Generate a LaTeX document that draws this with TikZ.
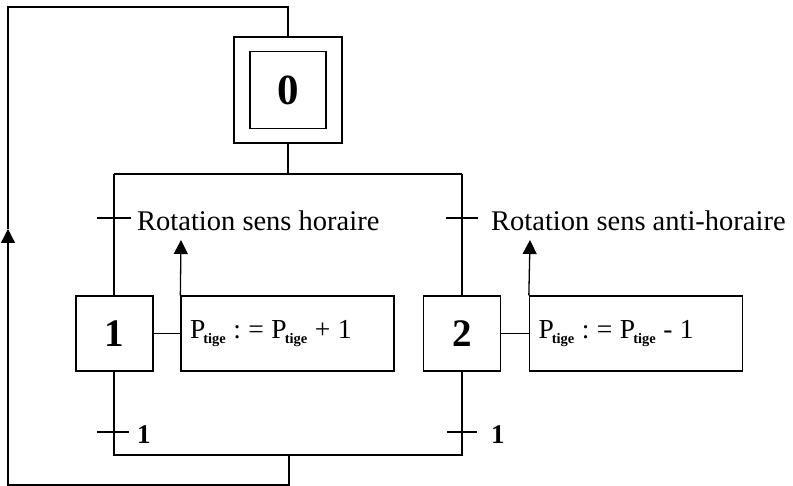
\documentclass[tikz,border=0pt]{standalone}
\usepackage{fontspec}
\setmainfont{Liberation Serif}
\usetikzlibrary{arrows.meta}
\newcommand\tigesub{\kern-2pt\raisebox{-5.5pt}{\fontsize{14.5}{14.5}\selectfont\bfseries tige}}
\newcommand\gap{\hspace{7.5pt}}
\tikzset{
  wire/.style={line width=1.3pt},
  stepbox/.style={draw, line width=1.3pt, minimum width=77pt, minimum height=75pt,
    inner sep=0pt, font=\fontsize{39}{42}\selectfont\bfseries},
  actbox/.style={draw, line width=1.3pt, minimum height=75pt, text width=195pt,
    inner sep=9pt, align=left, font=\fontsize{27.5}{30}\selectfont},
  cond/.style={anchor=base west, inner sep=0pt, font=\fontsize{28.5}{32}\selectfont},
  condnum/.style={anchor=base west, inner sep=0pt, font=\fontsize{27}{30}\selectfont\bfseries},
  tip/.style={-{Triangle[length=14pt,width=14pt]}},
}
\begin{document}
\begin{tikzpicture}[x=1pt,y=-1pt]
\useasboundingbox (0,0) rectangle (793,486);

% initial step (double square)
\node[draw, line width=1.3pt, minimum width=108pt, minimum height=106pt, inner sep=0pt] (s0o) at (288,90) {};
\node[draw, line width=1.3pt, minimum width=76pt, minimum height=77pt, inner sep=0pt,
  font=\fontsize{43}{46}\selectfont\bfseries] (s0) at (288,90) {0};

% steps 1 and 2
\node[stepbox] (s1) at (114.5,333.5) {1};
\node[stepbox] (s2) at (462,333.5) {2};

% actions
\node[actbox] (a1) at (287.5,333.5) {P\tigesub\gap:\gap=\gap P\tigesub\gap+\gap1};
\node[actbox] (a2) at (636,333.5) {P\tigesub\gap:\gap=\gap P\tigesub\gap-\gap1};

% divergence
\coordinate (dv) at (288,174);
\coordinate (dvl) at (114,174);
\coordinate (dvr) at (462,174);
\draw[wire] (s0o.south) -- (dv);
\draw[wire] (dvl) -- (dvr);
\draw[wire] (dvl) -- (dvl |- s1.north);
\draw[wire] (dvr) -- (dvr |- s2.north);

% upper transitions
\coordinate (t1) at (114,218);
\coordinate (t2) at (462,218);
\draw[wire] ([xshift=-17pt]t1) -- ([xshift=17pt]t1);
\draw[wire] ([xshift=-16pt]t2) -- ([xshift=16pt]t2);
\node[cond] (c1) at (137,231) {Rotation sens horaire};
\node[cond] (c2) at (491,231) {Rotation sens anti-horaire};

% step to action links
\draw[wire] (s1.east) -- (a1.west);
\draw[wire] (s2.east) -- (a2.west);

% action report arrows
\coordinate (r1) at (181,240);
\coordinate (r2) at (530,240);
\draw[wire,tip] (a1.north west) -- (r1);
\draw[wire,tip] (a2.north west) -- (r2);

% convergence
\coordinate (cvl) at (114,455);
\coordinate (cvr) at (462,455);
\coordinate (cv) at (289,455);
\draw[wire] (dvl |- s1.south) -- (cvl) -- (cvr) -- (dvr |- s2.south);

% lower transitions
\coordinate (t3) at (114,432);
\coordinate (t4) at (462,432);
\draw[wire] ([xshift=-17pt]t3) -- ([xshift=15pt]t3);
\draw[wire] ([xshift=-15pt]t4) -- ([xshift=15pt]t4);
\node[condnum] (c3) at (137,443) {1};
\node[condnum] (c4) at (491,443) {1};

% return loop
\coordinate (lb) at (289,485);
\coordinate (lbl) at (8,485);
\coordinate (la) at (8,229);
\coordinate (ltl) at (8,7);
\coordinate (lt) at (288,7);
\draw[wire,tip] (cv) -- (lb) -- (lbl) -- (la);
\draw[wire] (la) -- (ltl) -- (lt) -- (s0o.north);
\end{tikzpicture}
\end{document}
